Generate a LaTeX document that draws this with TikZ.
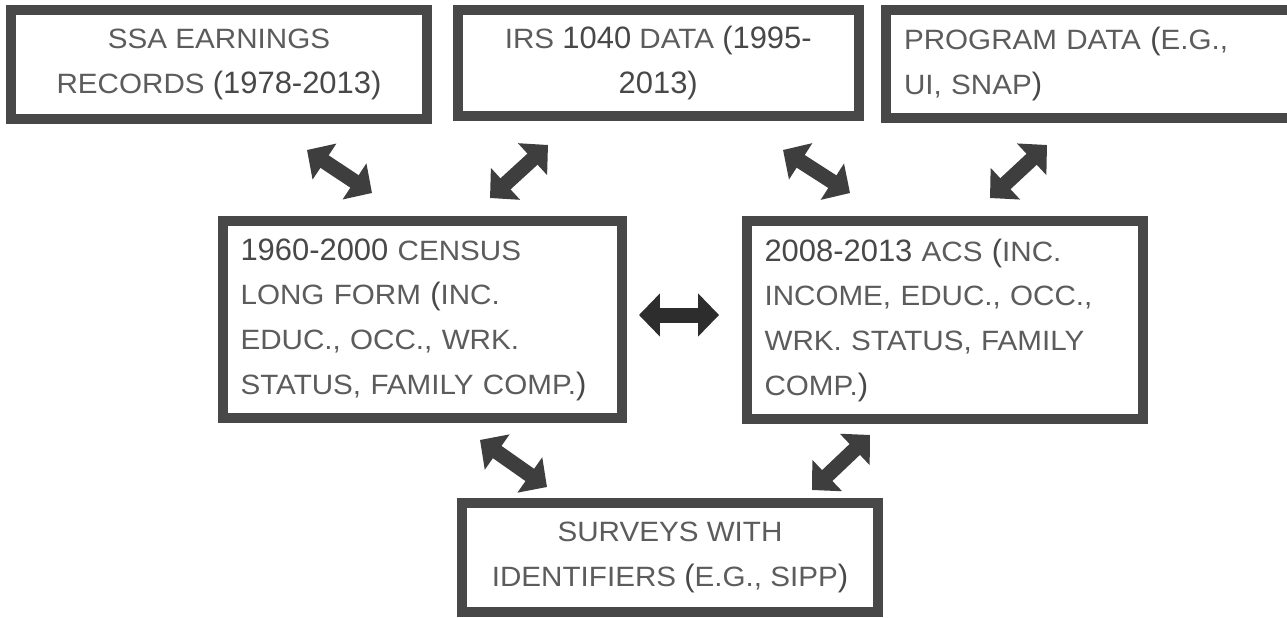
\documentclass[tikz,border=0pt]{standalone}
\usepackage{fontspec}
\setmainfont{Liberation Sans}[FakeStretch=1.06]
\newfontfamily\digitfont{Liberation Sans}
\usetikzlibrary{arrows.meta,calc}

\definecolor{boxgray}{RGB}{72,72,72}
\definecolor{arrowgray}{RGB}{62,62,62}
\definecolor{arrowdark}{RGB}{45,45,45}
\definecolor{textgray}{RGB}{92,92,92}
\definecolor{numgray}{RGB}{72,72,72}

\newcommand\dg[1]{{\digitfont\fontsize{17.6}{25.4}\selectfont\color{numgray}#1}}

\tikzset{
 box/.style={draw=boxgray, line width=0.2cm, fill=white, text=textgray,
   font=\fontsize{15.9}{25.4}\selectfont, inner sep=0pt, align=center},
 leftbox/.style={box, align=left, inner xsep=0.36cm},
 link/.style={draw=arrowgray, line width=0.3cm,
   {Triangle[width=0.84cm,length=0.42cm]}-{Triangle[width=0.84cm,length=0.42cm]}},
}

\begin{document}
\begin{tikzpicture}[x=0.02cm,y=-0.02cm]
 \useasboundingbox (0,0) rectangle (1287,618);

 \node[box, minimum width=8.32cm, minimum height=2.19cm] (ssa) at (219,64.25)
   {SSA EARNINGS\\RECORDS \dg{(1978-2013)}};
 \node[box, minimum width=8.03cm, minimum height=2.13cm] (irs) at (658.25,62.75)
   {IRS \dg{1040} DATA \dg{(1995-}\\\dg{2013)}};
 \node[leftbox, text width=7.40cm, minimum height=2.18cm] (prog) at (1089,64)
   {PROGRAM DATA \dg{(}E.G.,\\UI, SNAP\dg{)}};

 \node[leftbox, text width=7.27cm, minimum height=3.94cm] (census) at (422.25,319.5)
   {\dg{1960-2000} CENSUS\\LONG FORM \dg{(}INC.\\EDUC., OCC., WRK.\\STATUS, FAMILY COMP.\dg{)}};
 \node[leftbox, text width=7.21cm, minimum height=3.97cm] (acs) at (944.75,320.25)
   {\dg{2008-2013} ACS \dg{(}INC.\\INCOME, EDUC., OCC.,\\WRK. STATUS, FAMILY\\COMP.\dg{)}};

 \node[box, minimum width=8.32cm, minimum height=2.2cm] (surv) at (670,557.5)
   {SURVEYS WITH\\IDENTIFIERS \dg{(}E.G., SIPP\dg{)}};

 \draw[link] ($(ssa.south)+(88,26)$) -- ($(census.north)+(-50.25,-23)$);
 \draw[link] ($(irs.south)+(-110.25,24)$) -- ($(census.north)+(67.75,-18)$);
 \draw[link] ($(irs.south)+(124.75,29)$) -- ($(acs.north)+(-94.75,-23)$);
 \draw[link] ($(prog.south)+(-42,21.5)$) -- ($(acs.north)+(45.25,-18)$);
 \draw[link, draw=arrowdark] ($(census.east)+(12,-4.5)$) -- ($(acs.west)+(-22.5,-5.25)$);
 \draw[link] ($(census.south)+(57.75,17)$) -- ($(surv.north)+(-123,-10.5)$);
 \draw[link] ($(acs.south)+(-74.75,10.5)$) -- ($(surv.north)+(142,-7.5)$);
\end{tikzpicture}
\end{document}
